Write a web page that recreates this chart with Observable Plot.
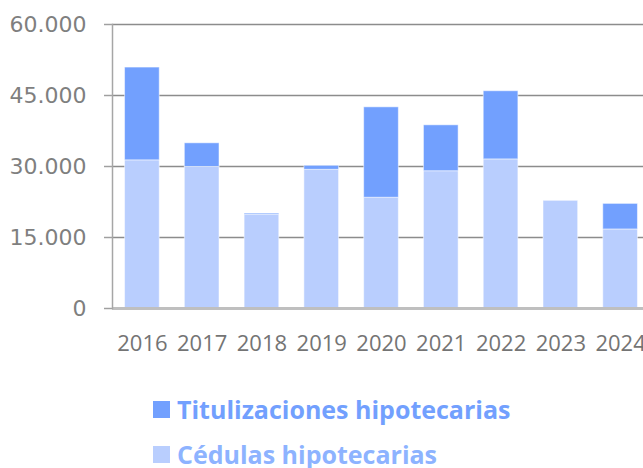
<!DOCTYPE html>
<html><head><meta charset="utf-8">
<script src="https://cdn.jsdelivr.net/npm/d3@7"></script>
<script src="https://cdn.jsdelivr.net/npm/@observablehq/plot@0.6"></script>
<style>
html,body{margin:0;padding:0;width:643px;height:468px;overflow:hidden;background:#fff;}
#chart{position:absolute;left:0;top:0;width:651px;}
#chart svg{max-width:none !important;}
#legend{position:absolute;left:0;top:0;}
.row{position:absolute;left:153px;display:flex;align-items:center;font-family:"Open Sans",sans-serif;font-weight:bold;font-size:25px;white-space:nowrap;}
.sw{width:17px;height:17px;margin-right:7px;}
</style></head><body>
<div id="chart"></div>
<div id="legend"></div>
<script>
const years = ["2016","2017","2018","2019","2020","2021","2022","2023","2024"];
const cedulas = [31300, 29900, 19800, 29300, 23400, 29000, 31500, 22750, 16700];
const titulizaciones = [19600, 5000, 250, 850, 19100, 9700, 14400, 0, 5400];
const seriesNames = ["Cédulas hipotecarias", "Titulizaciones hipotecarias"];
const seriesColors = ["#b9cefe", "#72a0fe"];
const legendTextColors = ["#8db3ff", "#72a0fe"];
const yTicks = [0, 15000, 30000, 45000, 60000];

const data = [];
years.forEach((y, i) => data.push({year: y, serie: seriesNames[0], value: cedulas[i]}));
years.forEach((y, i) => data.push({year: y, serie: seriesNames[1], value: titulizaciones[i]}));

const fmt = d3.formatLocale({decimal: ",", thousands: ".", grouping: [3], currency: ["", "€"]}).format(",d");

const chart = Plot.plot({
  width: 651, height: 360,
  marginLeft: 112, marginRight: 1, marginTop: 24, marginBottom: 52,
  x: {domain: years, paddingInner: 0.42, paddingOuter: 0.21, round: false},
  y: {domain: [0, 60000]},
  color: {domain: seriesNames, range: seriesColors},
  marks: [
    Plot.ruleY(yTicks.filter(d => d > 0), {stroke: "#8c8c8c", strokeWidth: 1.5}),
    Plot.barY(data, Plot.stackY({x: "year", y: "value", fill: "serie", order: seriesNames, stroke: "#ffffff", strokeOpacity: 0.5, strokeWidth: 1})),
    Plot.ruleY([0], {stroke: "#bfbfbf", strokeWidth: 3}),
    Plot.axisY({ticks: yTicks, tickFormat: fmt, tickSize: 8, tickPadding: 18, stroke: "#a0a0a0", strokeWidth: 1.5, fill: "#7f7f7f", fontSize: 22, fontFamily: "DejaVu Sans", label: null}),
    Plot.frame({anchor: "left", stroke: "#a6a6a6", strokeWidth: 1.5}),
    Plot.axisX({tickSize: 0, tickPadding: 27, fill: "#747474", fontSize: 22, fontFamily: "Open Sans", label: null})
  ]
});
chart.style.maxWidth = "none";
chart.style.width = "651px";
chart.style.height = "360px";
document.getElementById("chart").appendChild(chart);

// legend (HTML, below the plot area)
const legend = document.getElementById("legend");
const order = [1, 0];
const tops = [392, 437];
order.forEach((k, j) => {
  const row = document.createElement("div");
  row.className = "row";
  row.style.top = tops[j] + "px";
  const sw = document.createElement("div");
  sw.className = "sw";
  sw.style.background = seriesColors[k];
  const t = document.createElement("span");
  t.textContent = seriesNames[k];
  t.style.color = legendTextColors[k];
  row.appendChild(sw); row.appendChild(t);
  legend.appendChild(row);
});
</script>
</body></html>
